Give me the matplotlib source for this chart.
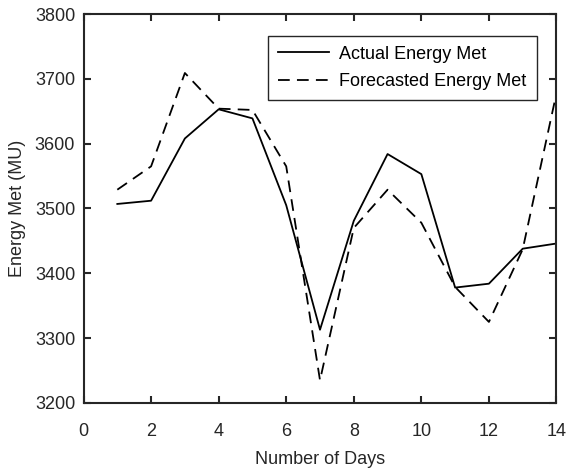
import numpy as np
import matplotlib.pyplot as plt

# days and energy values (MU)
days = [1, 2, 3, 4, 5, 6, 7, 8, 9, 10, 11, 12, 13, 14]
actual = [3507, 3512, 3608, 3653, 3639, 3505, 3313, 3481, 3584, 3553, 3378, 3384, 3438, 3446]
forecast = [3529, 3565, 3709, 3654, 3652, 3565, 3235, 3470, 3529, 3478, 3379, 3325, 3437, 3678]

plt.rcParams['font.family'] = ['Liberation Sans', 'DejaVu Sans']
plt.rcParams['font.size'] = 13

fig = plt.figure(figsize=(5.69, 4.70), dpi=100)
ax = fig.add_axes([0.1468, 0.1426, 0.978 - 0.1468, 0.9702 - 0.1426])

ax.plot(days, actual, color='black', lw=1.3, label='Actual Energy Met')
ax.plot(days, forecast, color='black', lw=1.3, dashes=(6.5, 4), label='Forecasted Energy Met')

ax.set_xlim(0, 14)
ax.set_ylim(3200, 3800)
ax.set_xticks(np.arange(0, 15, 2))
ax.set_yticks(np.arange(3200, 3801, 100))
ax.set_xlabel('Number of Days', color='#262626', labelpad=8)
ax.set_ylabel('Energy Met (MU)', color='#262626', labelpad=6)

for s in ax.spines.values():
    s.set_linewidth(1.5)
    s.set_color('#262626')
ax.tick_params(direction='in', length=5, width=1.5, color='#262626',
               labelcolor='#262626', top=True, right=True)
ax.tick_params(axis='y', pad=6)
ax.tick_params(axis='x', pad=14.5)

leg = ax.legend(loc='upper right', bbox_to_anchor=(0.958, 0.944), fancybox=False,
                handlelength=2.83, handletextpad=0.6, borderpad=0.55, labelspacing=0.57,
                fontsize=13, borderaxespad=0)
leg.get_frame().set_edgecolor('#262626')
leg.get_frame().set_linewidth(1.0)
leg.get_frame().set_alpha(1)

fig.savefig('out.png', dpi=100)
